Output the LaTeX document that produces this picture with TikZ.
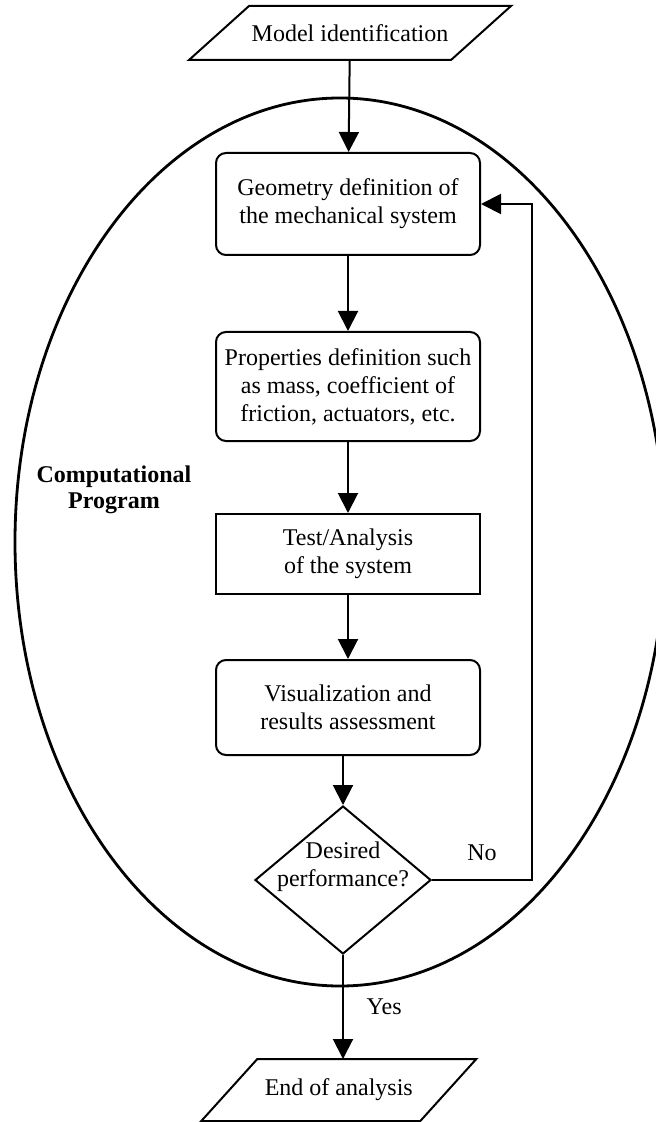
\documentclass[tikz,border=0pt]{standalone}
\usepackage{fontspec}
\setmainfont{Liberation Serif}
\usepackage{tikz}
\usetikzlibrary{arrows.meta,positioning,shapes.geometric}

\begin{document}
\begin{tikzpicture}[
  font=\fontsize{12}{14}\selectfont,
  line width=1pt,
  box/.style={draw, minimum width=132pt, align=center, inner sep=3pt},
  roundbox/.style={box, rounded corners=5pt},
  iobox/.style={align=center, inner sep=2pt},
  decision/.style={draw, diamond, minimum width=88pt, minimum height=74pt, inner sep=0pt},
  arrow/.style={-{Triangle[length=10pt, width=10pt]}},
]
\useasboundingbox (0,0) rectangle (327.5pt,-561pt);

% outer program region
\node[draw, ellipse, line width=1.4pt, minimum width=325pt, minimum height=444pt, inner sep=0pt] (program) at (170pt,-271pt) {};
\node[font=\fontsize{12}{13}\selectfont\bfseries, align=center] (proglabel) at (57pt,-245pt) {Computational\\Program};

\node[iobox, minimum width=130pt, minimum height=26pt] (model) at (175pt,-16.5pt) {Model identification};
\draw ([xshift=15pt]model.north west) -- ([xshift=15pt]model.north east) -- ([xshift=-15pt]model.south east) -- ([xshift=-15pt]model.south west) -- cycle;
\node[roundbox, minimum height=51pt, below=46pt of model, xshift=-1pt] (geom) {Geometry definition of\\the mechanical system};
\node[roundbox, minimum height=54.5pt, below=37.5pt of geom] (props) {Properties definition such\\as mass, coefficient of\\friction, actuators, etc.};
\node[box, minimum height=40pt, below=35.5pt of props] (test) {Test/Analysis\\of the system};
\node[roundbox, minimum height=47.5pt, below=32pt of test] (visual) {Visualization and\\results assessment};
\node[decision, below=24.5pt of visual, xshift=-2.5pt] (decide) {};
\node[align=center] (decidetext) at ([yshift=6.5pt]decide.center) {Desired\\performance?};
\node[iobox, minimum width=108.5pt, minimum height=30pt] (finish) at (169.4pt,-545pt) {End of analysis};
\draw ([xshift=14pt]finish.north west) -- ([xshift=14pt]finish.north east) -- ([xshift=-14pt]finish.south east) -- ([xshift=-14pt]finish.south west) -- cycle;

\draw[arrow] (model) -- (geom);
\draw[arrow] (geom) -- (props);
\draw[arrow] (props) -- (test);
\draw[arrow] (test) -- (visual);
\draw[arrow] (visual.south -| decide.north) -- (decide.north);
\draw[arrow] (decide.south) -- (decide.south |- finish.north) node[pos=0.5, right=8pt] {Yes};
\draw[arrow] (decide.east) -- ++(50pt,0) coordinate (loopback) node[midway, above=6pt] {No} |- (geom.east);
\end{tikzpicture}
\end{document}
